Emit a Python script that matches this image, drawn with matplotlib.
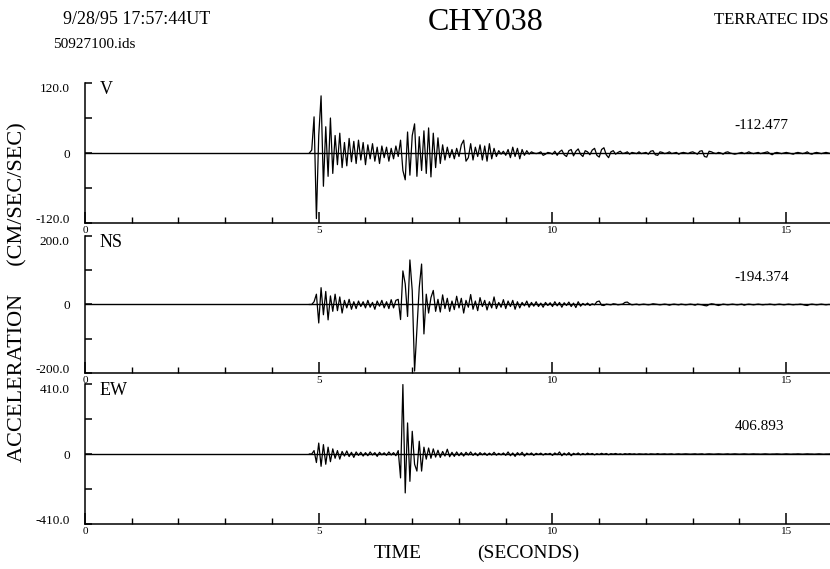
import numpy as np
import matplotlib
matplotlib.use("Agg")
import matplotlib.pyplot as plt
from matplotlib.transforms import ScaledTranslation

plt.rcParams['font.family'] = ['Liberation Serif', 'DejaVu Serif']

ONSET = 4.80
DT = 0.05

# Vertical component (cm/s^2), rows are one second each after the first four samples
v_trace = [
    0, 5, 62, -112.477,
    30, 98, -57, 45, -40, 60, -35, 30, -20, 34, -25, 18, -22, 25, -15, 20, -18, 22, -12, 18,
    -20, 14, -10, 16, -14, 10, -18, 12, -8, 10, -14, 8, -10, 12, -6, 22, -30, -46, 36, -38,
    30, 50, -40, 28, -30, 38, -35, 43, -41, 34, -25, 26, -18, 14, -12, 10, -8, 6, -10, 8,
    -6, 14, 22, -14, -8, 16, -12, 10, -6, 14, -12, 12, -14, 16, -10, 8, -6, 4, -2, 3,
    -4, 6, -8, 10, -6, 8, -10, 6, -4, 4, -2, 2, 0, -1, 0, 2, -4, -2, 1, 0,
    -2, 3, -4, 2, 5, -3, -6, 4, 6, -5, 3, 7, -2, -6, 4, 2, -3, 5, 8, -4,
    -7, 6, 9, -3, -8, 2, 4, -2, 1, 3, -1, 0, 2, -2, 1, 0, -1, 2, -1, 0,
    1, -2, 3, 4, -3, -4, 2, 1, -1, 0, 2, -1, 0, 1, -2, 0, 1, 0, -1, 1,
    2, 0, -2, 3, 4, -6, -7, 3, 2, 0, -1, 1, 0, -2, 1, 2, 0, -1, -2, -1,
    0, 1, -1, 0, 2, 0, -1, 0, 1, -1, 0, 1, 2, -1, -3, 0, 1, 0, -1, 0,
    1, 0, -1, -2, 0, 1, 0, -1, 0, 2, -1, -2, 0, 1, 0, -1, 0, 1, 0, -1,
    0,
]

# North-south component (cm/s^2)
ns_trace = [
    0, 0, 8, 30,
    -54, 49, -30, 38, -45, 25, -20, 30, -18, 22, -25, 12, -10, 15, -14, 8, -12, 10, -6, 8,
    -10, 12, -8, 6, -14, 10, -5, 12, -10, 8, -12, 14, -10, 12, 15, -44, 98, 60, -35, 130,
    40, -194.374, -73, 50, 118, -86, 30, -25, 20, 41, -20, 15, -22, 28, -12, 18, -20, 10, -15, 24,
    -10, 18, -25, 12, -8, 29, -14, 10, -18, 20, -6, 12, -16, 8, -10, 22, -12, 6, -8, 14,
    -12, 10, -6, 12, -14, 8, -10, 6, -4, 10, -8, 6, -5, 8, -6, 4, -8, 6, -3, 5,
    -6, 8, -4, 6, -8, 5, -3, 7, -6, 4, -9, 8, -5, 3, -2, 4, -3, 2, -1, 8,
    10, -2, -3, 1, 0, -1, 2, 1, -1, 0, 1, 6, 7, 2, -1, 0, 1, -1, 0, 1,
    0, -1, 0, 2, 1, 0, -1, 0, 1, 0, -2, 0, 1, 0, -1, 1, 0, -1, 0, 1,
    0, -2, 1, 0, -1, -3, -4, 0, 2, 1, -1, -3, -1, 1, 0, -1, 0, 1, 0, -1,
    0, 1, -2, 0, 1, 0, -1, 0, 1, 0, -1, 0, 0, 1, 0, -1, 0, 1, 0, -1,
    0, 1, 0, -1, 0, 0, 1, 0, -2, -3, 0, 1, 0, -1, 0, 1, 0, -1, 0, 0,
    0,
]

# East-west component (cm/s^2)
ew_trace = [
    0, 0, 20, -50,
    64, -72, 55, -60, 40, -45, 30, -25, 20, -30, 15, -12, 18, -15, 10, -20, 12, -8, 10, -12,
    8, -10, 12, -6, 8, -14, 10, -5, 7, -8, 12, -6, 8, -10, 20, -140, 406.893, -228, 182, -160,
    133, -60, -100, 75, -100, 40, -30, 35, -25, 30, -18, 22, -20, 15, -12, 28, -16, 10, -14, 12,
    -10, 8, -12, 10, -6, 12, -8, 6, -10, 8, -5, 6, -8, 5, -6, 10, -7, 4, -5, 6,
    -8, 12, -10, 6, -14, 8, -6, 10, -12, 5, -4, 6, -8, 4, -3, 5, -6, 3, -2, 4,
    -8, 6, -4, 12, -10, 5, -6, 8, -10, 4, -3, 6, -5, 3, -4, 5, -2, 3, -5, 2,
    -3, 4, -2, 3, -4, 2, -1, 3, -2, 1, -3, 2, -1, 2, -1, 1, -2, 1, 0, -1,
    1, -2, 1, 0, -1, 2, -1, 0, 1, -1, 0, 1, -2, 0, 1, -1, 0, 1, 0, -1,
    0, 1, -1, 0, 1, -2, 0, 1, 0, -1, 0, 1, 0, -1, 0, 1, -1, 0, 1, 0,
    -1, 0, 1, 0, -1, 0, 1, 0, 0, -1, 0, 1, 0, -1, 0, 0, 1, 0, -1, 0,
    1, 0, -1, 0, 0, 1, 0, -1, 0, 1, 0, 0, -1, 0, 1, 0, -1, 0, 0, 1,
    0,
]

channels = ["V", "NS", "EW"]
traces = [v_trace, ns_trace, ew_trace]
y_ranges = [120.0, 200.0, 410.0]
x_major = [0, 5, 10, 15]

fig = plt.figure(figsize=(8.30, 5.69), dpi=100)

# Panel rectangles in figure fractions (left, bottom, width, height)
rects = [
    (0.1024, 0.6081, 0.9012, 0.2460),
    (0.1024, 0.3445, 0.9012, 0.2408),
    (0.1024, 0.0791, 0.9012, 0.2460),
]

nudge_down = ScaledTranslation(0, -3 / 72, fig.dpi_scale_trans)
nudge_up = ScaledTranslation(0, 3 / 72, fig.dpi_scale_trans)

for name, data, rng, rect in zip(channels, traces, y_ranges, rects):
    ax = fig.add_axes(rect)
    vals = np.asarray(data, dtype=float)
    t = ONSET + DT * np.arange(len(vals))
    ax.axhline(0, color="black", lw=1.0, zorder=1)
    ax.plot(t, vals, color="black", lw=0.9, zorder=2)
    ax.set_xlim(0, 16)
    ax.set_ylim(-rng, rng)
    for side in ("top", "right"):
        ax.spines[side].set_visible(False)
    for side in ("left", "bottom"):
        ax.spines[side].set_linewidth(1.1)
    ax.set_xticks(x_major)
    ax.set_xticks(np.arange(0, 17, 1), minor=True)
    ax.set_xticklabels([str(x) for x in x_major])
    ax.tick_params(axis="x", which="major", direction="in", length=8, width=1.1,
                   labelsize=8, pad=2)
    ax.tick_params(axis="x", which="minor", direction="in", length=4, width=1.0)
    ax.set_yticks([-rng, 0, rng])
    ax.set_yticklabels([f"{-rng:.1f}", "0", f"{rng:.1f}"])
    ax.set_yticks([-rng / 2, rng / 2], minor=True)
    ax.tick_params(axis="y", which="both", direction="in", length=5, width=1.1,
                   labelsize=9.5, pad=11)
    ylabels = ax.get_yticklabels()
    ylabels[0].set_transform(ylabels[0].get_transform() + nudge_up)
    ylabels[-1].set_transform(ylabels[-1].get_transform() + nudge_down)
    ax.text(0.02, 0.955, name, transform=ax.transAxes, fontsize=13,
            ha="left", va="center")
    peak = vals[np.argmax(np.abs(vals))]
    ax.text(0.868, 0.70, f"{peak:.3f}", transform=ax.transAxes, fontsize=11,
            ha="left", va="center")
    ax.patch.set_alpha(0)

fig.text(63 / 830, 1 - 20 / 569, "9/28/95 17:57:44UT", fontsize=13,
         ha="left", va="center")
fig.text(53 / 830, 1 - 45 / 569, "50927100.ids", fontsize=11,
         ha="left", va="center")
fig.text(486 / 830, 1 - 22 / 569, "CHY038", fontsize=23,
         ha="center", va="center")
fig.text(828 / 830, 1 - 20 / 569, "TERRATEC IDS", fontsize=12,
         ha="right", va="center")
fig.text(18 / 830, 1 - 292 / 569, "ACCELERATION     (CM/SEC/SEC)", fontsize=16,
         rotation=90, ha="center", va="center")
fig.text(398 / 830, 1 - 553 / 569, "TIME", fontsize=14,
         ha="center", va="center")
fig.text(528 / 830, 1 - 553 / 569, "(SECONDS)", fontsize=14,
         ha="center", va="center")

fig.savefig("out.png", dpi=100, facecolor="white")
